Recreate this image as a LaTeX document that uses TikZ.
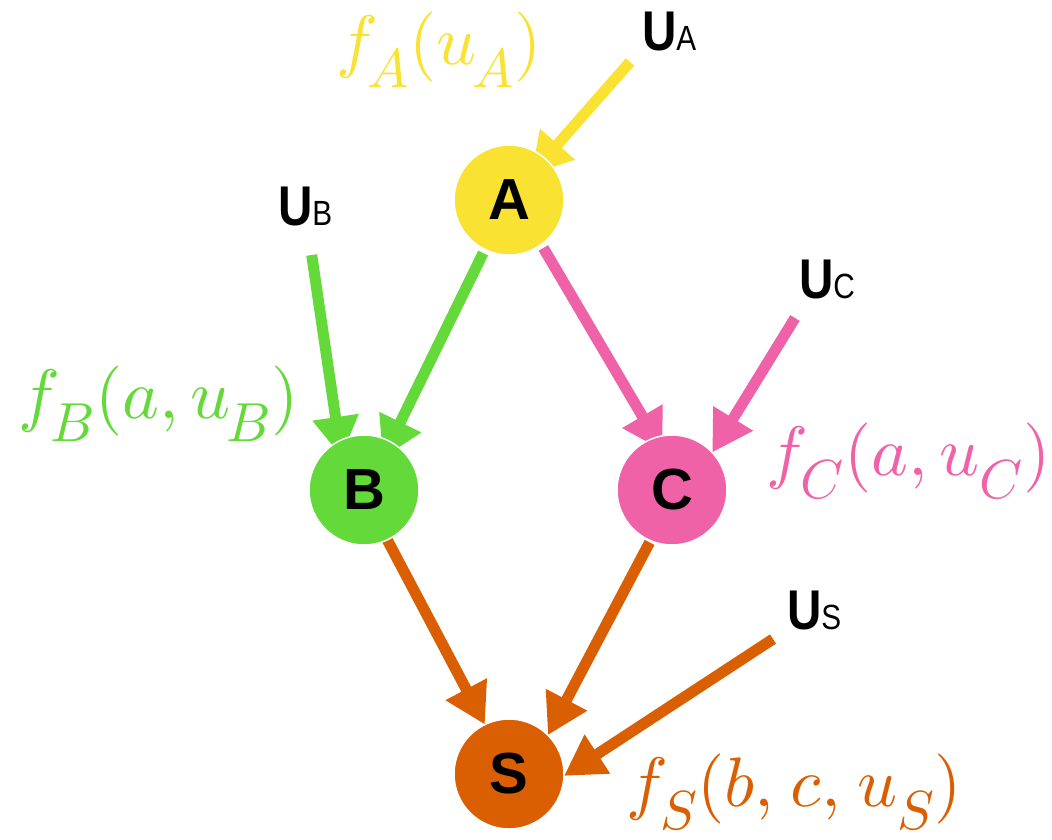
\documentclass[tikz,border=0pt]{standalone}
\usepackage{fontspec}
\DeclareFontShape{OML}{cmm}{m}{it}{<->cmmi10}{}
\DeclareFontShape{OT1}{cmr}{m}{n}{<->cmr10}{}
\DeclareFontShape{OMS}{cmsy}{m}{n}{<->cmsy10}{}
\DeclareMathSizes{70}{70}{55}{40}
\newcommand\fsubfix{\fontdimen16\textfont2=23pt\fontdimen17\textfont2=23pt}
\newcommand\ulabel[1]{\scalebox{0.85}[1]{\fontsize{56}{56}\selectfont\bfseries U\fontsize{35}{35}\selectfont\mdseries #1}}
\newfontfamily\hv{Liberation Sans}
\usetikzlibrary{arrows.meta,backgrounds}
\definecolor{cA}{HTML}{F9E231}
\definecolor{cB}{HTML}{63D93A}
\definecolor{cC}{HTML}{EF62A8}
\definecolor{cS}{HTML}{D95F02}
\begin{document}
\begin{tikzpicture}[x=1pt,y=-1pt,
  var/.style={circle,minimum size=110pt,inner sep=0pt,outer sep=0pt,draw=white,line width=1.5pt,font=\hv\bfseries\fontsize{58}{58}\selectfont},
  ulab/.style={anchor=base west,inner sep=0pt,outer sep=0pt,font=\hv},
  flab/.style={anchor=base west,inner sep=0pt,outer sep=0pt,font=\fontsize{70}{70}\selectfont},
  edge/.style={line width=11pt,-{Triangle[length=40pt,width=44pt]}}]
\useasboundingbox (0,0) rectangle (1052,839);
\node[var,fill=cA] (A) at (509,200) {A};
\node[var,fill=cB] (B) at (364,490) {B};
\node[var,fill=cC] (C) at (672,490) {C};
\node[var,fill=cS] (S) at (509,774) {S};
\node[ulab] (UA) at (642,50) {\ulabel{A}};
\node[ulab] (UB) at (278,225) {\ulabel{B}};
\node[ulab] (UC) at (799,298) {\ulabel{C}};
\node[ulab] (US) at (787,629) {\ulabel{S}};
\node[flab,text=cA] (fA) at (336,64) {$\fsubfix f_{\kern-3pt A}(u_{\kern-4pt A})$};
\node[flab,text=cB] (fB) at (19,418) {$\fsubfix f_{\kern-3pt B}(a,u_{\kern-4pt B})$};
\node[flab,text=cC] (fC) at (766,475) {$\fsubfix f_C(a,u_C)$};
\node[flab,text=cS] (fS) at (626,806) {$\fsubfix f_S(b,\kern5pt c,\kern5pt u_S)$};
\coordinate (uAs) at (630,62);
\coordinate (uBs) at (311.7,255);
\coordinate (uCs) at (795,318);
\coordinate (uSs) at (773,639);
\begin{scope}[on background layer]
\draw[edge,cA,shorten >=-21pt] (uAs) -- (A.49.8);
\draw[edge,cB,shorten >=-16pt] (uBs) -- (B.117.8);
\draw[edge,cB,shorten <=4pt,shorten >=-18pt] (A.244) -- (B.61.4);
\draw[edge,cC,shorten <=4pt,shorten >=-15pt] (A.306) -- (C.108.2);
\draw[edge,cC] (uCs) -- (C.43.2);
\draw[edge,cS] (B.295) -- (S.116.6);
\draw[edge,cS,shorten <=2pt] (C.247) -- (S.45.1);
\draw[edge,cS] (uSs) -- (S.-2.9);
\end{scope}
\end{tikzpicture}
\end{document}
